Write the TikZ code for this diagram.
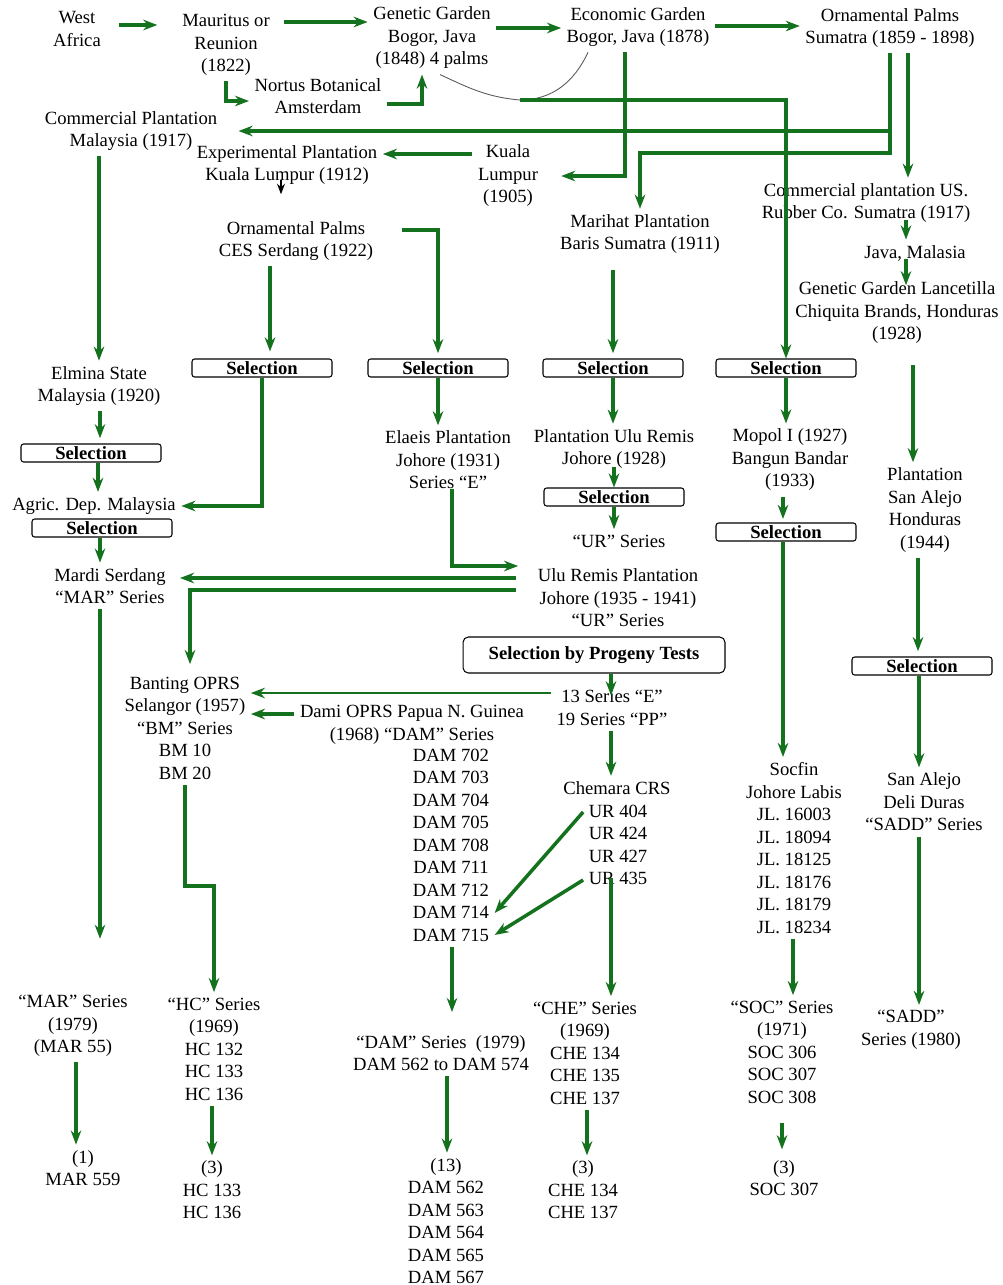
\documentclass[tikz,border=0pt]{standalone}
\usepackage{fontspec}
\setmainfont{Liberation Serif}
\usepackage{tikz}
\usetikzlibrary{arrows.meta}

\definecolor{palmgreen}{RGB}{20,114,30}

\begin{document}
\begin{tikzpicture}[
  x=0.02cm, y=-0.02cm,
  every node/.style={font=\fontsize{10.6}{12.8}\selectfont, align=center, inner sep=3pt},
  flow/.style={draw=palmgreen, line width=2pt, -{Stealth[length=8pt,width=6pt]}},
  thinflow/.style={flow, line width=1.1pt},
  link/.style={draw=black!65, line width=0.5pt},
  selbox/.style={draw, line width=0.6pt, rounded corners=1.5pt, minimum width=2.8cm, minimum height=0.36cm, inner sep=0pt, font=\fontsize{10.6}{12.8}\selectfont\bfseries},
  testbox/.style={selbox, minimum width=5.24cm, minimum height=0.72cm, rounded corners=3pt},
  blacktip/.style={draw=black, line width=1pt, -{Stealth[length=6pt,width=4.5pt]}}
]
\useasboundingbox (0,0) rectangle (1002,1285);

% origins and early gardens
\node (wafr) at (77,29) {West\\Africa};
\node (maur) at (226,45) {Mauritus or\\Reunion\\(1822)};
\node (genet) at (432,38) {Genetic Garden\\Bogor, Java\\(1848) 4 palms};
\node (econ) at (638,27) {Economic Garden\\Bogor, Java (1878)};
\node (ornsum) at (890,28) {Ornamental Palms\\Sumatra (1859 - 1898)};
\node (nortus) at (318,96) {Nortus Botanical\\Amsterdam};
\node (commmy) at (131,131) {Commercial Plantation\\Malaysia (1917)};
\node (expkl) at (287,165) {Experimental Plantation\\Kuala Lumpur (1912)};
\node (kuala) at (508,176) {Kuala\\Lumpur\\(1905)};
\node (commus) at (866,203) {Commercial plantation US.\\Rubber Co. Sumatra (1917)};
\node (marihat) at (640,234) {Marihat Plantation\\Baris Sumatra (1911)};
\node (javamal) at (915,253) {Java, Malasia};
\node (lancet) at (897,313) {Genetic Garden Lancetilla\\Chiquita Brands, Honduras\\(1928)};
\node (cesserd) at (296,241) {Ornamental Palms\\CES Serdang (1922)};

% selection row
\foreach \n/\x in {selA/262,selB/438,selC/613,selD/786}
  \node[selbox] (\n) at (\x,368) {Selection};

\node (elmina) at (99,386) {Elmina State\\Malaysia (1920)};
\node[selbox] (selelm) at (91,453) {Selection};
\node (agric) at (94,506) {Agric. Dep. Malaysia};
\node[selbox] (selagr) at (102,528) {Selection};
\node (mardi) at (110,586) {Mardi Serdang\\“MAR” Series};
\node (elaeis) at (448,460) {Elaeis Plantation\\Johore (1931)\\Series “E”};
\node (pluremis) at (614,449) {Plantation Ulu Remis\\Johore (1928)};
\node[selbox] (selur) at (614,497) {Selection};
\node (urser) at (619,541) {“UR” Series};
\node (mopol) at (790,460) {Mopol I (1927)\\Bangun Bandar\\(1933)};
\node[selbox] (selmop) at (786,532) {Selection};
\node (sanalejo) at (925,510) {Plantation\\San Alejo\\Honduras\\(1944)};
\node (uluplant) at (618,598) {Ulu Remis Plantation\\Johore (1935 - 1941)\\“UR” Series};
\node[testbox] (selprog) at (594,655) {Selection by Progeny Tests};
\node[selbox] (selsan) at (922,666) {Selection};

% breeding stations
\node (banting) at (185,728) {Banting OPRS\\Selangor (1957)\\“BM” Series\\BM 10\\BM 20};
\node (dami) at (412,725) {Dami OPRS Papua N. Guinea\\(1968) “DAM” Series};
\node (damlist) at (451,845) {DAM 702\\DAM 703\\DAM 704\\DAM 705\\DAM 708\\DAM 711\\DAM 712\\DAM 714\\DAM 715};
\node (progeny) at (612,708) {13 Series “E”\\19 Series “PP”};
\node (chemara) at (617,788) {Chemara CRS};
\node (urlist) at (618,845) {UR 404\\UR 424\\UR 427\\UR 435};
\node (socfin) at (794,848) {Socfin\\Johore Labis\\JL. 16003\\JL. 18094\\JL. 18125\\JL. 18176\\JL. 18179\\JL. 18234};
\node (deli) at (924,802) {San Alejo\\Deli Duras\\“SADD” Series};

% released series
\node (marser) at (73,1026) {“MAR” Series\\(1979)\\(MAR 55)};
\node (hcser) at (214,1049) {“HC” Series\\(1969)\\HC 132\\HC 133\\HC 136};
\node (damser) at (441,1053) {“DAM” Series~ (1979)\\DAM 562 to DAM 574};
\node (cheser) at (585,1053) {“CHE” Series\\(1969)\\CHE 134\\CHE 135\\CHE 137};
\node (socser) at (782,1052) {“SOC” Series\\(1971)\\SOC 306\\SOC 307\\SOC 308};
\node (saddser) at (911,1030) {“SADD”\\Series (1980)};
\node (marsel) at (83,1168) {(1)\\MAR 559};
\node (hcsel) at (212,1190) {(3)\\HC 133\\HC 136};
\node (damsel) at (446,1221) {(13)\\DAM 562\\DAM 563\\DAM 564\\DAM 565\\DAM 567};
\node (chesel) at (583,1190) {(3)\\CHE 134\\CHE 137};
\node (socsel) at (784,1178) {(3)\\SOC 307};

% top row
\draw[flow, shorten <=7pt, shorten >=11pt] (wafr.east |- 0,25) -- (maur.west |- 0,25);
\draw[flow, shorten <=5pt] (maur.east |- 0,22) -- (genet.west |- 0,22);
\draw[flow] (genet.east |- 0,28) -- (econ.west |- 0,28);
\draw[flow] (econ.east |- 0,26) -- (ornsum.west |- 0,26);
\draw[flow] (maur.south) |- (nortus.west |- 0,101);
\draw[flow] (nortus.east |- 0,104) -| (422,0 |- genet.south);

% Sumatra and Bogor spread
\draw[flow, shorten >=9pt] (ornsum.south) |- (commmy.east);
\draw[flow] (ornsum.south) -- (890,153) -| (marihat.north);
\draw[flow] (908,0 |- ornsum.south) -- (908,0 |- commus.north);
\draw[flow, shorten >=10pt] (625,0 |- econ.south) |- (kuala.east);
\draw[flow] (kuala.west |- 0,154) -- (expkl.east |- 0,154);
\draw[blacktip] (expkl.south) ++(-6,-10) -- ++(0,14);
\coordinate (junc) at (520,100);
\draw[link] (440,0 |- genet.south) to[out=-25,in=175] (junc);
\draw[link] (588,0 |- econ.south) to[out=-115,in=0] (junc);
\draw[flow] (junc) -| (selD.north);

% down to the selection row
\draw[flow] (elmina.north |- commmy.south) -- (elmina.north);
\draw[flow, shorten >=4pt] (270,0 |- cesserd.south) -- (270,0 |- selA.north);
\draw[flow, shorten <=13pt, shorten >=3pt] (cesserd.east |- 0,230) -| (selB.north);
\draw[flow, shorten <=6pt, shorten >=3pt] (selC.north |- marihat.south) -- (selC.north);
\draw[flow, shorten <=-5pt] (906,0 |- commus.south) -- (906,0 |- javamal.north);
\draw[flow, shorten <=-4pt, shorten >=-5pt] (906,0 |- javamal.south) -- (906,0 |- lancet.north);
\draw[flow, shorten <=9pt] (913,0 |- lancet.south) -- (913,0 |- sanalejo.north);

\draw[flow, shorten >=3pt] (100,0 |- elmina.south) -- (100,0 |- selelm.north);
\draw[flow] (98,0 |- selelm.south) -- (98,0 |- agric.north);
\draw[flow] (selA.south) |- (agric.east);
\draw[flow] (100,0 |- selagr.south) -- (100,0 |- mardi.north);
\foreach \s/\t in {selB/elaeis,selC/pluremis,selD/mopol}
  \draw[flow] (\s.south) -- (\s.south |- \t.north);
\draw[flow, shorten <=-4pt] (selur.north |- pluremis.south) -- (selur.north);
\draw[flow] (selur.south) -- (selur.south |- urser.north);
\draw[flow, shorten >=2pt] (783,0 |- mopol.south) -- (783,0 |- selmop.north);
\draw[flow, shorten >=3pt] (918,0 |- sanalejo.south) -- (918,0 |- selsan.north);

% Ulu Remis and the stations
\draw[flow, shorten <=-3pt, shorten >=8pt] (452,0 |- elaeis.south) |- (uluplant.west |- 0,566);
\draw[flow, shorten <=9pt, shorten >=5pt] (uluplant.west |- 0,578) -- (mardi.east |- 0,578);
\draw[flow, shorten <=9pt, shorten >=4pt] (uluplant.west |- 0,590) -| (190,0 |- banting.north);
\draw[thinflow] (progeny.west |- 0,693) -- (banting.east |- 0,693);
\draw[flow] (dami.west |- 0,714) -- (banting.east |- 0,714);
\draw[flow, shorten >=-6pt] (611,0 |- selprog.south) -- (611,0 |- progeny.north);
\draw[flow] (611,0 |- progeny.south) -- (611,0 |- chemara.north);
\draw[flow] (urlist.west |- 0,812) -- (damlist.east |- 0,913);
\draw[flow] (urlist.west |- 0,880) -- (damlist.east |- 0,935);
\draw[flow, shorten <=-7pt] (611,0 |- urlist.south) -- (611,0 |- cheser.north);
\draw[flow, shorten >=10pt] (452,0 |- damlist.south) -- (452,0 |- damser.north);
\draw[flow] (783,0 |- selmop.south) -- (783,0 |- socfin.north);
\draw[flow] (793,0 |- socfin.south) -- (793,0 |- socser.north);
\draw[flow] (919,0 |- selsan.south) -- (919,0 |- deli.north);
\draw[flow] (919,0 |- deli.south) -- (919,0 |- saddser.north);
\draw[flow, shorten >=29pt] (100,0 |- mardi.south) -- (100,0 |- marser.north);
\draw[flow] (banting.south) -- (185,886) -| (hcser.north);

% final selections
\draw[flow] (76,0 |- marser.south) -- (76,0 |- marsel.north);
\draw[flow] (212,0 |- hcser.south) -- (212,0 |- hcsel.north);
\draw[flow] (447,0 |- damser.south) -- (447,0 |- damsel.north);
\draw[flow] (587,0 |- cheser.south) -- (587,0 |- chesel.north);
\draw[flow, shorten <=8pt, shorten >=3pt] (782,0 |- socser.south) -- (782,0 |- socsel.north);
\end{tikzpicture}
\end{document}
